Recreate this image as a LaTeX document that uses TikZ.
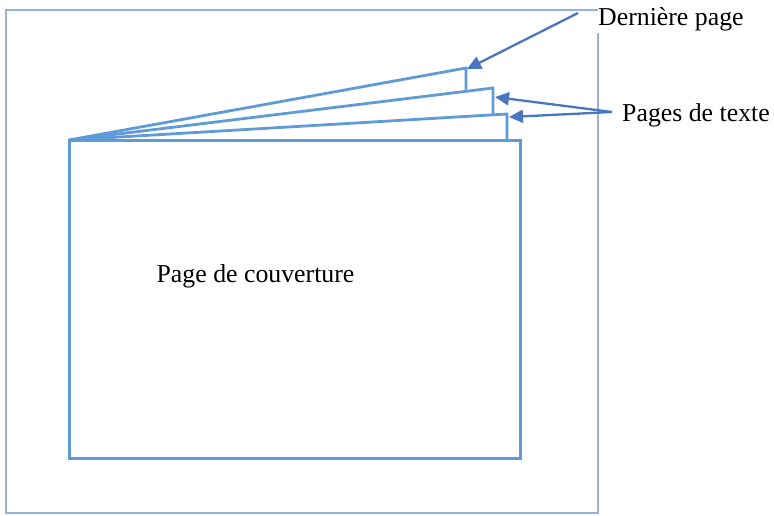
\documentclass[tikz,border=0pt]{standalone}
\usepackage{fontspec}
\setmainfont{Liberation Serif}
\usetikzlibrary{arrows.meta}
\definecolor{cadre}{RGB}{150,178,222}
\definecolor{feuille}{RGB}{95,155,215}
\definecolor{fleche}{RGB}{72,118,192}

\begin{document}
\begin{tikzpicture}[x=1pt,y=-1pt,>={Triangle[length=14pt,width=13pt]},
	txt/.style={inner sep=1pt,font=\fontsize{25.8}{30}\selectfont}]
		\useasboundingbox (0,0) rectangle (774,515);
		\draw[color=cadre, line width=2.2] (598,33)--(598,513)--(6,513)--(6,10)--(598,10);
		% couverture
		\draw[color=feuille, line width=3] (69,140) rectangle (520,458);
		\coordinate (apex) at (69,140);
		\foreach \x/\y/\b in {507/114/140, 493/88/115, 466/68/91}
			\draw[color=feuille, line width=2.8] (apex)--(\x,\y)--(\x,\b);
		\node[txt] (couv) at (255.5,276) {Page de couverture};
		\node[txt, anchor=west] (der) at (597,19) {Dernière page};
		\node[txt, anchor=west] (tex) at (621,115) {Pages de texte};
		\coordinate (d0) at (578,13);
		\coordinate (t0) at (612,112);
		\coordinate (p3) at (467,69);
		\coordinate (p2) at (495,97);
		\coordinate (p1) at (509,117);
		\draw[->, color=fleche, line width=2.3] (d0)--(p3);
		\draw[->, color=fleche, line width=2.3] (t0)--(p2);
		\draw[->, color=fleche, line width=2.3] (t0)--(p1);
		\end{tikzpicture}
\end{document}
